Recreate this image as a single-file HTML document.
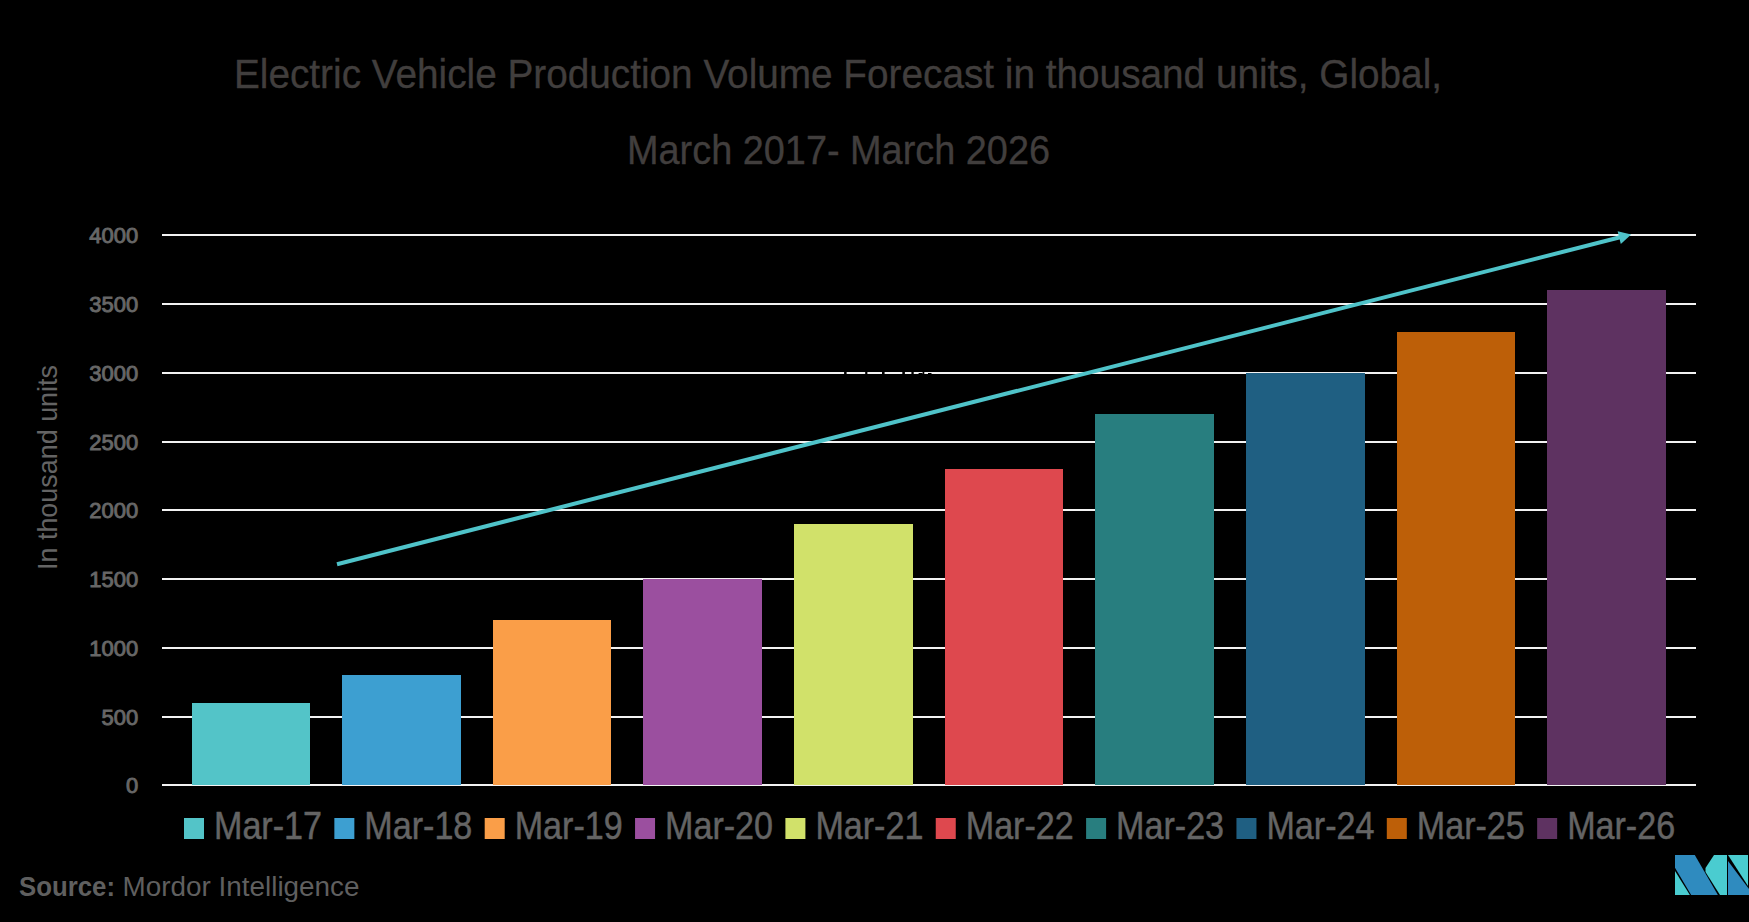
<!DOCTYPE html>
<html><head><meta charset="utf-8">
<style>
html,body{margin:0;padding:0;background:#000;}
body{width:1749px;height:922px;overflow:hidden;position:relative;}
svg{position:absolute;left:0;top:0;}
text{font-family:"Liberation Sans",sans-serif;}
</style></head>
<body>
<svg width="1749" height="922" viewBox="0 0 1749 922">
<rect x="0" y="0" width="1749" height="922" fill="#000"/>
<!-- title -->
<text x="234" y="88" font-size="41" fill="#413E3D" stroke="#413E3D" stroke-width="0.35" textLength="1208" lengthAdjust="spacingAndGlyphs">Electric Vehicle Production Volume Forecast in thousand units, Global,</text>
<text x="627" y="164" font-size="41" fill="#413E3D" stroke="#413E3D" stroke-width="0.35" textLength="423" lengthAdjust="spacingAndGlyphs">March 2017- March 2026</text>
<!-- gridlines -->
<g fill="#F2F2F2">
<rect x="162" y="234" width="1534" height="2"/>
<rect x="162" y="303" width="1534" height="2"/>
<rect x="162" y="372" width="1534" height="2"/>
<rect x="162" y="441" width="1534" height="2"/>
<rect x="162" y="509" width="1534" height="2"/>
<rect x="162" y="578" width="1534" height="2"/>
<rect x="162" y="647" width="1534" height="2"/>
<rect x="162" y="716" width="1534" height="2"/>
<rect x="162" y="784" width="1534" height="2"/>
</g>
<!-- occluding black text marks on 3000 line -->
<g fill="#000">
<rect x="844.1" y="371" width="2.5" height="4"/>
<rect x="865.2" y="371" width="2.2" height="4"/>
<rect x="882" y="371" width="2.6" height="4"/>
<rect x="902.3" y="371" width="2.6" height="4"/>
<rect x="911.4" y="371" width="2.3" height="4"/>
<rect x="922.6" y="371" width="1.7" height="4"/>
<rect x="918.6" y="373" width="4" height="2"/>
<rect x="928" y="373" width="3.5" height="2"/>
</g>
<!-- y labels -->
<g font-size="22" fill="#676767" stroke="#676767" stroke-width="0.9" text-anchor="end">
<text x="138.2" y="243.25">4000</text>
<text x="138.2" y="312">3500</text>
<text x="138.2" y="380.75">3000</text>
<text x="138.2" y="449.5">2500</text>
<text x="138.2" y="518.25">2000</text>
<text x="138.2" y="587">1500</text>
<text x="138.2" y="655.75">1000</text>
<text x="138.2" y="724.5">500</text>
<text x="138.2" y="793.25">0</text>
</g>
<text transform="translate(57,569) rotate(-90)" x="-1" y="0" font-size="28.5" fill="#646464" textLength="205" lengthAdjust="spacingAndGlyphs">In thousand units</text>
<!-- bars -->
<rect x="192" y="703" width="118" height="82" fill="#53C4C8"/>
<rect x="342" y="675" width="119" height="110" fill="#3D9FD1"/>
<rect x="493" y="620" width="118" height="165" fill="#FA9E48"/>
<rect x="643" y="579" width="119" height="206" fill="#9B4F9F"/>
<rect x="794" y="524" width="119" height="261" fill="#D1E16A"/>
<rect x="945" y="469" width="118" height="316" fill="#DE484E"/>
<rect x="1095" y="414" width="119" height="371" fill="#287E7F"/>
<rect x="1246" y="373" width="119" height="412" fill="#1F5F82"/>
<rect x="1397" y="332" width="118" height="453" fill="#BD5F08"/>
<rect x="1547" y="290" width="119" height="495" fill="#5E3261"/>
<!-- arrow -->
<line x1="337" y1="564.2" x2="1620" y2="237.3" stroke="#4FC3C9" stroke-width="4"/>
<polygon points="1631.2,234.5 1617.6,231.2 1620.8,244" fill="#4FC3C9"/>
<!-- legend -->
<g>
<rect x="184" y="818" width="20" height="21" fill="#53C4C8"/>
<rect x="334.35" y="818" width="20" height="21" fill="#3D9FD1"/>
<rect x="484.7" y="818" width="20" height="21" fill="#FA9E48"/>
<rect x="635.05" y="818" width="20" height="21" fill="#9B4F9F"/>
<rect x="785.4" y="818" width="20" height="21" fill="#D1E16A"/>
<rect x="935.75" y="818" width="20" height="21" fill="#DE484E"/>
<rect x="1086.1" y="818" width="20" height="21" fill="#287E7F"/>
<rect x="1236.45" y="818" width="20" height="21" fill="#1F5F82"/>
<rect x="1386.8" y="818" width="20" height="21" fill="#BD5F08"/>
<rect x="1537.15" y="818" width="20" height="21" fill="#5E3261"/>
</g>
<g font-size="38" fill="#646464" stroke="#646464" stroke-width="0.5">
<text x="214" y="839" textLength="108" lengthAdjust="spacingAndGlyphs">Mar-17</text>
<text x="364.35" y="839" textLength="108" lengthAdjust="spacingAndGlyphs">Mar-18</text>
<text x="514.7" y="839" textLength="108" lengthAdjust="spacingAndGlyphs">Mar-19</text>
<text x="665.05" y="839" textLength="108" lengthAdjust="spacingAndGlyphs">Mar-20</text>
<text x="815.4" y="839" textLength="108" lengthAdjust="spacingAndGlyphs">Mar-21</text>
<text x="965.75" y="839" textLength="108" lengthAdjust="spacingAndGlyphs">Mar-22</text>
<text x="1116.1" y="839" textLength="108" lengthAdjust="spacingAndGlyphs">Mar-23</text>
<text x="1266.45" y="839" textLength="108" lengthAdjust="spacingAndGlyphs">Mar-24</text>
<text x="1416.8" y="839" textLength="108" lengthAdjust="spacingAndGlyphs">Mar-25</text>
<text x="1567.15" y="839" textLength="108" lengthAdjust="spacingAndGlyphs">Mar-26</text>
</g>
<!-- source -->
<text x="19" y="895.5" font-size="27.5" fill="#5F5F5F" font-weight="bold" textLength="96" lengthAdjust="spacingAndGlyphs">Source:</text>
<text x="122.5" y="895.5" font-size="27.5" fill="#5F5F5F" textLength="237" lengthAdjust="spacingAndGlyphs">Mordor Intelligence</text>
<!-- logo -->
<g>
<polygon points="1675,855 1694.8,855 1717.9,895 1691.2,895 1675,867.8" fill="#2F8BBF"/>
<polygon points="1675,871 1675,895 1689.9,895" fill="#4ACCD0"/>
<polygon points="1714,855 1727,855 1727,895 1720,895 1705.5,872 1705.5,868" fill="#4ACCD0"/>
<polygon points="1728,855 1748,855 1748,886" fill="#4ACCD0"/>
<polygon points="1728,861 1728,895 1749,895 1749,889" fill="#2F8BBF"/>
</g>
</svg>
</body></html>
